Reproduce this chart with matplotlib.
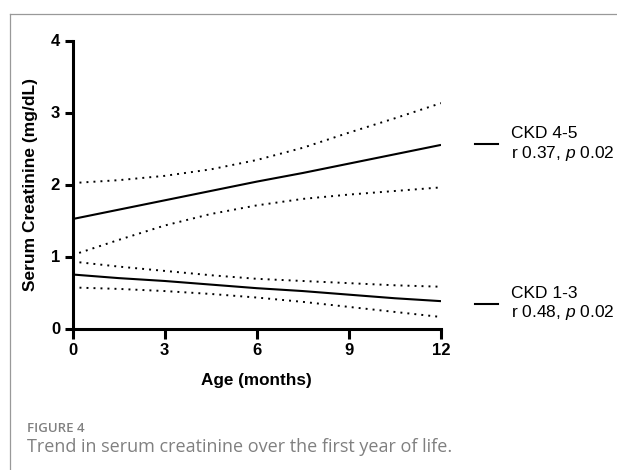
import matplotlib
matplotlib.use("Agg")
import matplotlib.pyplot as plt
from matplotlib.lines import Line2D

plt.rcParams["font.family"] = ["Liberation Sans", "DejaVu Sans"]
plt.rcParams["mathtext.fontset"] = "custom"
plt.rcParams["mathtext.rm"] = "Liberation Sans"
plt.rcParams["mathtext.it"] = "Liberation Sans:italic"

# age in months
months = [0, 1.5, 3, 4.5, 6, 7.5, 9, 10.5, 12]

# CKD 4-5: regression line and 95% band
ckd45_fit = [1.52, 1.65, 1.78, 1.91, 2.04, 2.16, 2.29, 2.42, 2.55]
ckd45_hi = [2.02, 2.06, 2.12, 2.21, 2.34, 2.51, 2.72, 2.92, 3.13]
ckd45_lo = [1.02, 1.23, 1.43, 1.59, 1.71, 1.80, 1.86, 1.91, 1.96]

# CKD 1-3: regression line and 95% band
ckd13_fit = [0.75, 0.70, 0.66, 0.61, 0.56, 0.52, 0.47, 0.42, 0.38]
ckd13_hi = [0.93, 0.86, 0.80, 0.74, 0.69, 0.66, 0.63, 0.60, 0.58]
ckd13_lo = [0.57, 0.55, 0.52, 0.48, 0.43, 0.37, 0.30, 0.23, 0.16]

group_labels = ["CKD 4-5\nr 0.37, $\\it{p}$ 0.02", "CKD 1-3\nr 0.48, $\\it{p}$ 0.02"]

x_ticks = [0, 3, 6, 9, 12]
y_ticks = [0, 1, 2, 3, 4]

W, H = 617, 470
fig = plt.figure(figsize=(W / 100, H / 100), dpi=100)
ax = fig.add_axes([72.5 / W, 1 - 328.5 / H, (441 - 72.5) / W, (328.5 - 40.5) / H])

dot = (0, (1, 2.6))
for fit, hi, lo in [(ckd45_fit, ckd45_hi, ckd45_lo), (ckd13_fit, ckd13_hi, ckd13_lo)]:
    ax.plot(months, fit, color="black", lw=1.5, solid_capstyle="butt")
    ax.plot(months, hi, color="black", lw=1.4, linestyle=dot)
    ax.plot(months, lo, color="black", lw=1.4, linestyle=dot)

ax.set_xlim(0, 12)
ax.set_ylim(0, 4)
ax.set_xticks(x_ticks)
ax.set_yticks(y_ticks)
ax.set_xticklabels([str(t) for t in x_ticks], fontweight="bold", fontsize=12)
ax.set_yticklabels([str(t) for t in y_ticks], fontweight="bold", fontsize=12)
ax.tick_params(axis="y", direction="out", length=6, width=2.2, pad=3)
ax.tick_params(axis="x", direction="out", length=7.5, width=2.2, pad=3)
for side in ["top", "right"]:
    ax.spines[side].set_visible(False)
for side in ["left", "bottom"]:
    ax.spines[side].set_linewidth(2.2)

ax.set_xlabel("Age (months)", fontweight="bold", fontsize=12.3, labelpad=11)
ax.set_ylabel("Serum Creatinine (mg/dL)", fontweight="bold", fontsize=12.5, labelpad=9)

# legend-like labels on the right
for yv, label in zip([2.56, 0.34], group_labels):
    ax.plot([13.1, 13.86], [yv, yv], color="black", lw=1.5, clip_on=False)
    ax.text(14.27, yv, label, fontsize=12.5, va="center", ha="left",
            linespacing=1.2, clip_on=False)

# caption and frame
fig.text(27 / W, 1 - 429 / H, "FIGURE 4", fontsize=9.5, color="#808080",
         family="Open Sans", fontweight="semibold", va="center")
fig.text(27 / W, 1 - 447 / H, "Trend in serum creatinine over the first year of life.",
         fontsize=13, color="#808080", family="Open Sans", va="center")
fig.add_artist(Line2D([9.5 / W, 9.5 / W], [0, 1 - 13.5 / H], color="#999999", lw=0.9))
fig.add_artist(Line2D([9.5 / W, 1], [1 - 13.5 / H, 1 - 13.5 / H], color="#999999", lw=0.9))

fig.savefig("out.png", dpi=100)
